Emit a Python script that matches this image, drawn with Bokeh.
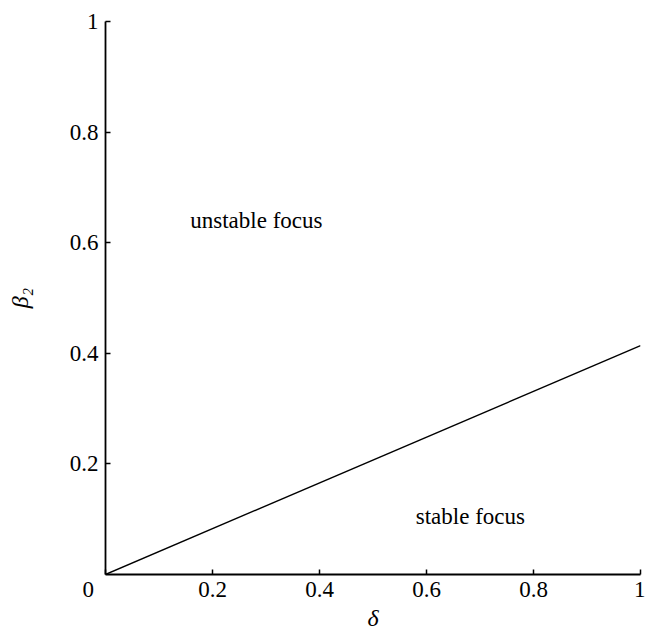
from bokeh.plotting import figure
from bokeh.models import Range1d, Label, FixedTicker
from bokeh.embed import file_html
from bokeh.resources import INLINE

# Data
delta = [0.0, 1.0]
beta2 = [0.0, 0.414]
x_ticks = [0.0, 0.2, 0.4, 0.6, 0.8, 1.0]
y_ticks = [0.2, 0.4, 0.6, 0.8, 1.0]
x_tick_labels = ["0" + "\u00a0" * 6, "0.2", "0.4", "0.6", "0.8", "1"]
y_tick_labels = ["0.2", "0.4", "0.6", "0.8", "1"]
region_labels = ["unstable focus", "stable focus"]
region_x = [0.282, 0.682]
region_y = [0.640, 0.105]

FONT = "Times"

p = figure(frame_width=535, frame_height=553, output_backend="svg", toolbar_location=None,
           x_range=Range1d(0, 1), y_range=Range1d(0, 1),
           min_border_left=105, min_border_right=5, min_border_top=21, min_border_bottom=50)
p.outline_line_color = None
p.grid.grid_line_color = None
p.background_fill_color = "white"
p.border_fill_color = "white"

p.line(delta, beta2, line_color="black", line_width=1.4)

for ax, ticks, labels in ((p.xaxis, x_ticks, x_tick_labels), (p.yaxis, y_ticks, y_tick_labels)):
    ax.ticker = FixedTicker(ticks=ticks)
    ax.major_label_overrides = {t: l for t, l in zip(ticks, labels)}
    ax.major_tick_in = 5
    ax.major_tick_out = 0
    ax.minor_tick_line_color = None
    ax.axis_line_width = 1.8
    ax.major_tick_line_width = 1.5
    ax.axis_line_color = "black"
    ax.major_tick_line_color = "black"
    ax.major_label_text_font = FONT
    ax.major_label_text_font_size = "23px"
    ax.major_label_text_color = "black"
    ax.axis_label_text_font = FONT
    ax.axis_label_text_font_size = "24px"
    ax.axis_label_text_font_style = "italic"
    ax.axis_label_text_color = "black"

p.xaxis.major_label_standoff = 2
p.yaxis.major_label_standoff = 7
p.xaxis.axis_label = "δ"
p.yaxis.axis_label = "β₂"
p.xaxis.axis_label_standoff = 0
p.yaxis.axis_label_standoff = 34
p.yaxis.major_label_orientation = "horizontal"

for t, x, y in zip(region_labels, region_x, region_y):
    p.add_layout(Label(x=x, y=y, text=t, text_align="center", text_baseline="middle",
                       text_font=FONT, text_font_size="23px", text_color="black"))

open("out.html", "w").write(file_html(p, INLINE))
